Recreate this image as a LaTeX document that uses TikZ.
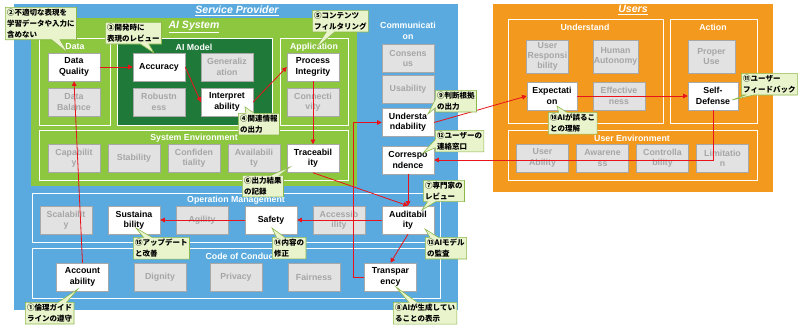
\documentclass[tikz,border=0pt]{standalone}
\usepackage{fontspec}
\setmainfont{Liberation Sans}
\newfontfamily\jp{Noto Sans CJK JP}
\usetikzlibrary{arrows.meta,shapes.callouts}
\definecolor{spblue}{HTML}{5AAADF}
\definecolor{aigreen}{HTML}{8DC63F}
\definecolor{modelgreen}{HTML}{1F7A3A}
\definecolor{userorange}{HTML}{F39A1E}
\definecolor{itemgray}{HTML}{E2E2E2}
\definecolor{itemline}{HTML}{A8A8A8}
\definecolor{itemtext}{HTML}{A6A6A6}
\definecolor{notefill}{HTML}{E9F4CD}
\definecolor{noteline}{HTML}{8CB84A}
\definecolor{flowred}{HTML}{E8141B}

\begin{document}
\begin{tikzpicture}[x=0.03cm,y=-0.03cm,
	grp/.style={draw=white,line width=0.8pt},
	grptitle/.style={text=white,font=\fontsize{7.5}{8.8}\selectfont\bfseries,align=center,inner sep=0pt},
	bigtitle/.style={text=white,font=\fontsize{9}{10}\selectfont\bfseries\itshape,inner sep=0pt},
	itembox/.style={draw=itemline,line width=0.4pt,minimum width=1.56cm,minimum height=0.84cm,align=center,inner sep=0pt,font=\fontsize{7.5}{8.8}\selectfont\bfseries},
	dimbox/.style={itembox,fill=itemgray,text=itemtext},
	keybox/.style={itembox,fill=white,text=black},
	flow/.style={draw=flowred,line width=0.7pt,-{Triangle[length=4pt,width=4pt]}},
	note/.style={rectangle callout,draw=noteline,fill=notefill,line width=0.5pt,anchor=north west,align=left,inner xsep=1.6pt,inner ysep=1.6pt,font=\jp\fontsize{6.4}{9.2}\selectfont\bfseries}]
	\useasboundingbox (0,0) rectangle (800,334);

	% Service Provider
	\fill[spblue] (14,4) rectangle (458,310);
	\node[bigtitle] (tsp) at (237,11) {\underline{Service Provider}};

	% AI System
	\fill[aigreen] (31,18) rectangle (357,186);
	\node[bigtitle] (tai) at (194,27) {\underline{AI System}};
	\draw[grp] (39,38) rectangle (110,125);
	\node[grptitle] (tdata) at (75,47) {Data};
	\draw[grp,fill=modelgreen] (117,38) rectangle (272,125);
	\node[grptitle] (tmodel) at (194,47) {AI Model};
	\draw[grp] (280,38) rectangle (348,125);
	\node[grptitle] (tapp) at (314,47) {Application};
	\draw[grp] (39,130) rectangle (348,180);
	\node[grptitle] (tenv) at (194,138) {System Environment};

	\node[keybox] (dq) at (74,67) {Data\\Quality};
	\node[dimbox] (db) at (74,102) {Data\\Balance};
	\node[keybox] (accu) at (159,67) {Accuracy};
	\node[dimbox] (gen) at (227,67) {Generaliz\\ation};
	\node[dimbox] (rob) at (159,102) {Robustn\\ess};
	\node[keybox] (interp) at (227,102) {Interpret\\ability};
	\node[keybox] (proc) at (313,67) {Process\\Integrity};
	\node[dimbox] (conn) at (313,102) {Connecti\\vity};

	\node[dimbox] (capa) at (74,158.5) {Capabilit\\y};
	\node[dimbox] (stab) at (134,158.5) {Stability};
	\node[dimbox] (conf) at (194,158.5) {Confiden\\tiality};
	\node[dimbox] (avail) at (254,158.5) {Availabili\\ty};
	\node[keybox] (trace) at (313,158.5) {Traceabil\\ity};

	% Communication
	\draw[white,double=spblue,double distance=1.2pt,line width=0.6pt] (374,18) rectangle (443,186);
	\node[grptitle] (tcomm) at (408,31) {Communicati\\on};
	\node[dimbox] (cons) at (408,58.5) {Consens\\us};
	\node[dimbox] (usab) at (408,89) {Usability};
	\node[keybox] (under) at (408,122.5) {Understa\\ndability};
	\node[keybox] (corr) at (408,160) {Correspo\\ndence};

	% Operation Management
	\draw[grp] (32,193) rectangle (440,242);
	\node[grptitle] (tops) at (236,200) {Operation Management};
	\node[dimbox] (scal) at (66,220) {Scalabilit\\y};
	\node[keybox] (sust) at (134,220) {Sustaina\\bility};
	\node[dimbox] (agil) at (202,220) {Agility};
	\node[keybox] (safe) at (271,220) {Safety};
	\node[dimbox] (acces) at (339,220) {Accessib\\ility};
	\node[keybox] (audit) at (408,220) {Auditabil\\ity};

	% Code of Conduct
	\draw[grp] (32,248) rectangle (440,298);
	\node[grptitle] (tcode) at (241,256) {Code of Conduct};
	\node[keybox] (acct) at (82.5,277) {Account\\ability};
	\node[dimbox] (dign) at (160,277) {Dignity};
	\node[dimbox] (priv) at (236,277) {Privacy};
	\node[dimbox] (fair) at (314,277) {Fairness};
	\node[keybox] (transp) at (390.5,277) {Transpar\\ency};

	% Users
	\fill[userorange] (493,4) rectangle (773,192);
	\node[bigtitle] (tusers) at (633,10) {\underline{Users}};
	\draw[grp] (508,19) rectangle (663,123);
	\node[grptitle] (tund) at (585,27) {Understand};
	\draw[grp] (670,19) rectangle (757,123);
	\node[grptitle] (tact) at (713,27) {Action};
	\draw[grp] (508,130) rectangle (757,180);
	\node[grptitle] (tuenv) at (632,138) {User Environment};

	\node[dimbox,minimum width=1.26cm,minimum height=0.99cm] (resp) at (547.5,56.5) {User\\Responsi\\bility};
	\node[dimbox,minimum width=1.35cm,minimum height=0.99cm] (auto) at (615.5,56.5) {Human\\Autonomy};
	\node[keybox,minimum width=1.5cm] (expect) at (552,96) {Expectati\\on};
	\node[dimbox] (effect) at (619,96) {Effective\\ness};
	\node[dimbox,minimum width=1.41cm,minimum height=0.99cm] (proper) at (711.5,56.5) {Proper\\Use};
	\node[keybox,minimum width=1.5cm] (selfdef) at (713,96) {Self-\\Defense};

	\node[dimbox] (uabil) at (542.5,158) {User\\Ability};
	\node[dimbox] (aware) at (602.5,158) {Awarene\\ss};
	\node[dimbox] (ctrl) at (662.5,158) {Controlla\\bility};
	\node[dimbox] (limit) at (722.5,158) {Limitatio\\n};

	% Flow
	\coordinate (bend) at (353,122.5);
	\draw[flow] (acct.north) -- (dq.south);
	\draw[flow] (dq.east) -- (accu.west);
	\draw[flow] (accu.east) -- (interp.west);
	\draw[flow] (interp.east) -- (proc.west);
	\draw[flow] (proc.south) -- (trace.north);
	\draw[flow] (trace.south) -- (audit.north);
	\draw[flow] (corr.south) -- (audit.north);
	\draw[flow] (audit.west) -- (safe.east);
	\draw[flow] (safe.west) -- (sust.east);
	\draw[flow] (audit.south) -- (transp.north);
	\draw[flow] (transp.west) -| (bend) -- (under.west);
	\draw[flow] (under.east) -- (expect.west);
	\draw[flow] (expect.east) -- (selfdef.west);
	\draw[flow] (selfdef.south) |- (corr.east);

	% Notes
	\node[note,callout absolute pointer={(78,289)}] (n1) at (25,302) {①倫理ガイド\\ラインの遵守};
	\node[note,callout absolute pointer={(68,53)}] (n2) at (5,7) {②不適切な表現を\\学習データや入力に\\含めない};
	\node[note,callout absolute pointer={(154,53)}] (n3) at (105,22) {③開発時に\\表現のレビュー};
	\node[note,callout absolute pointer={(245,107)}] (n4) at (238,113) {④関連情報\\の出力};
	\node[note,callout absolute pointer={(315,49)}] (n5) at (312,10) {⑤コンテンツ\\フィルタリング};
	\node[note,callout absolute pointer={(290,167)}] (n6) at (242,175) {⑥出力結果\\の記録};
	\node[note,callout absolute pointer={(422,210)}] (n7) at (423,180) {⑦専門家の\\レビュー};
	\node[note,callout absolute pointer={(396,287)}] (n8) at (393,302) {⑧AIが生成してい\\ることの表示};
	\node[note,callout absolute pointer={(428,114)}] (n9) at (435,90) {⑨判断根拠\\の出力};
	\node[note,callout absolute pointer={(557,106)}] (n10) at (548,112) {⑩AIが誤るこ\\との理解};
	\node[note,callout absolute pointer={(732,100)}] (n11) at (741,73) {⑪ユーザー\\フィードバック};
	\node[note,callout absolute pointer={(423,153)}] (n12) at (435,130) {⑫ユーザーの\\連絡窓口};
	\node[note,callout absolute pointer={(425,229)}] (n13) at (425,237) {⑬AIモデル\\の監査};
	\node[note,callout absolute pointer={(272,228)}] (n14) at (272,237) {⑭内容の\\修正};
	\node[note,callout absolute pointer={(136,228)}] (n15) at (133,237) {⑮アップデート\\と改善};
\end{tikzpicture}
\end{document}
